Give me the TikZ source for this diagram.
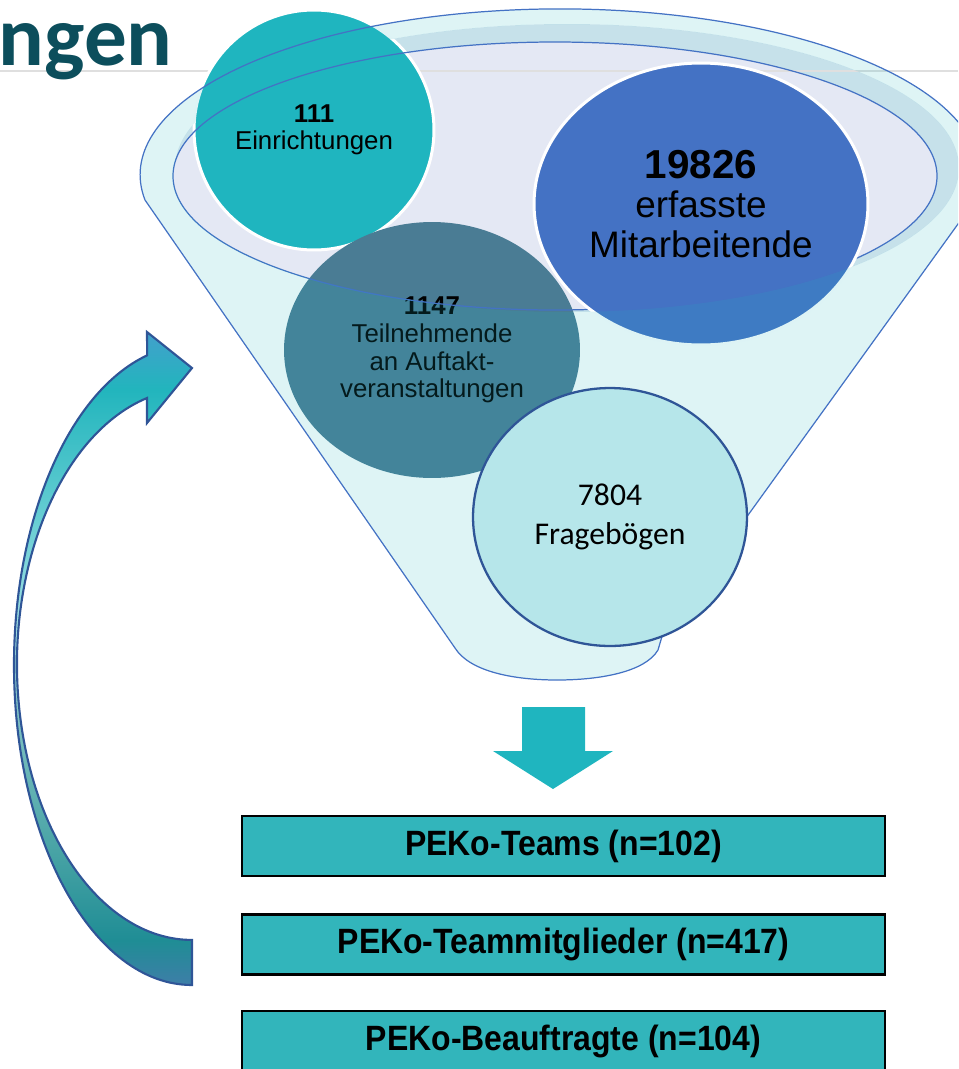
\documentclass[tikz,border=0pt]{standalone}
\usepackage{fontspec}
\usepackage{graphicx}
\setmainfont{Liberation Sans}
\newfontfamily\calib{Carlito}
\usetikzlibrary{shapes.geometric}
\definecolor{tealc}{HTML}{1FB5BF}
\definecolor{blueC}{HTML}{4472C4}
\definecolor{slateC}{HTML}{4A7C94}
\definecolor{paleC}{HTML}{B6E6EA}
\definecolor{darkB}{HTML}{2F5597}
\definecolor{lavC}{HTML}{E4E8F4}
\definecolor{ringC}{HTML}{C6E1EA}
\definecolor{boxC}{HTML}{32B5BB}
\definecolor{titleC}{HTML}{0C4E5C}
\definecolor{ca1}{HTML}{3E7EA8}
\definecolor{ca2}{HTML}{1F8D95}
\definecolor{ca3}{HTML}{48A3A5}
\definecolor{ca4}{HTML}{7FC2C2}
\definecolor{ca5}{HTML}{A2E1E4}
\definecolor{ca6}{HTML}{5DCAD0}
\definecolor{ca7}{HTML}{22B5BD}
\definecolor{ca8}{HTML}{42A0CC}
\pgfdeclareverticalshading{curvshade}{100bp}{color(0bp)=(ca1); color(25bp)=(ca1); color(28.4bp)=(ca2); color(35.3bp)=(ca3); color(45.3bp)=(ca4); color(52.2bp)=(ca5); color(62.1bp)=(ca6); color(70.6bp)=(ca7); color(75bp)=(ca8); color(100bp)=(ca8)}
\tikzset{
  bubble/.style={ellipse, inner sep=0pt, align=center, text=black},
  funline/.style={draw=blueC, line width=0.7pt},
  pekobox/.style={rectangle, draw=black, line width=1.2pt, fill=boxC, minimum width=12.86cm, minimum height=1.2cm, inner sep=0pt},
  curvarrow/.style={draw=darkB, line width=1.2pt, shading=curvshade},
}
\newcommand{\boxtxt}[1]{\scalebox{0.91}[1]{\bfseries\fontsize{20pt}{22pt}\selectfont #1}}
\begin{document}
\begin{tikzpicture}[x=0.02cm, y=0.02cm]
\useasboundingbox (0,0) rectangle (958,-1069);
\clip (0,0) rectangle (958,-1069);
% funnel rim fills (behind circles)
\fill[ringC] (567,-168) ellipse[x radius=392, y radius=144];
\fill[lavC] (555,-176) ellipse[x radius=382, y radius=134];
% grey header line
\draw[gray!25, line width=0.8pt] (0,-71) -- (958,-71);
% title
\node[anchor=base east, inner sep=0pt, text=titleC, font=\calib\bfseries\fontsize{48.5pt}{50pt}\selectfont] (title) at (173,-65) {ngen};
% circles
\node[bubble, circle, fill=tealc, draw=white, line width=1.7pt, minimum size=4.8cm, font=\fontsize{14.7pt}{15.6pt}\selectfont] (c111) at (314,-130) {\textbf{111}\\Einrichtungen};
\node[bubble, fill=slateC, minimum width=5.92cm, minimum height=5.12cm, font=\fontsize{14.7pt}{15.8pt}\selectfont] (c1147) at (432,-350) {\textbf{1147}\\Teilnehmende\\an Auftakt-\\veranstaltungen};
% inner rim outline over the first circles
\draw[funline] (555,-176) ellipse[x radius=382, y radius=134];
\node[bubble, fill=blueC, draw=white, line width=1.7pt, minimum width=6.68cm, minimum height=5.64cm, font=\fontsize{21pt}{22.5pt}\selectfont] (c19826) at (701,-204) {{\bfseries\fontsize{23pt}{24pt}\selectfont 19826}\\erfasste\\Mitarbeitende};
% translucent funnel body (outside the rim ellipses)
\begin{scope}
\clip (0,0) -- (0,-1069) -- (958,-1069) -- (958,0) -- cycle
  (937,-176) arc[start angle=0, end angle=-360, x radius=382, y radius=134];
\fill[tealc, fill opacity=0.15, even odd rule]
  (145,-200) arc[start angle=188.7, end angle=-8.7, x radius=420, y radius=166]
  -- (663,-633) -- (658,-650) .. controls (645,-672) and (600,-680) .. (557,-680)
  .. controls (515,-680) and (470,-672) .. (455,-648) -- cycle
  (567,-168) ellipse[x radius=392, y radius=144];
\end{scope}
\draw[funline]
  (145,-200) arc[start angle=188.7, end angle=-8.7, x radius=420, y radius=166]
  -- (663,-633) -- (658,-650) .. controls (645,-672) and (600,-680) .. (557,-680)
  .. controls (515,-680) and (470,-672) .. (455,-648) -- cycle;
\node[bubble, fill=paleC, draw=darkB, line width=1.3pt, minimum width=5.48cm, minimum height=5.16cm, font=\calib\fontsize{18pt}{21.8pt}\selectfont] (c7804) at (610,-517) {7804\\Fragebögen};
% down arrow
\fill[tealc] (522,-707) -- (585,-707) -- (585,-751) -- (613,-751) -- (553,-789) -- (493,-751) -- (522,-751) -- cycle;
% result boxes
\node[pekobox] (b1) at (563.5,-846) {\boxtxt{PEKo-Teams (n=102)}};
\node[pekobox] (b2) at (563.5,-944.5) {\boxtxt{PEKo-Teammitglieder (n=417)}};
\node[pekobox] (b3) at (563.5,-1041) {\boxtxt{PEKo-Beauftragte (n=104)}};
% curved feedback arrow
\path[curvarrow] (192,-985) arc[start angle=270, end angle=104.6, x radius=178, y radius=320]
  -- (147,-332) -- (192,-368) -- (147,-423) -- (147,-398)
  arc[start angle=104.9, end angle=270, x radius=175, y radius=275.6] -- cycle;
\end{tikzpicture}
\end{document}
